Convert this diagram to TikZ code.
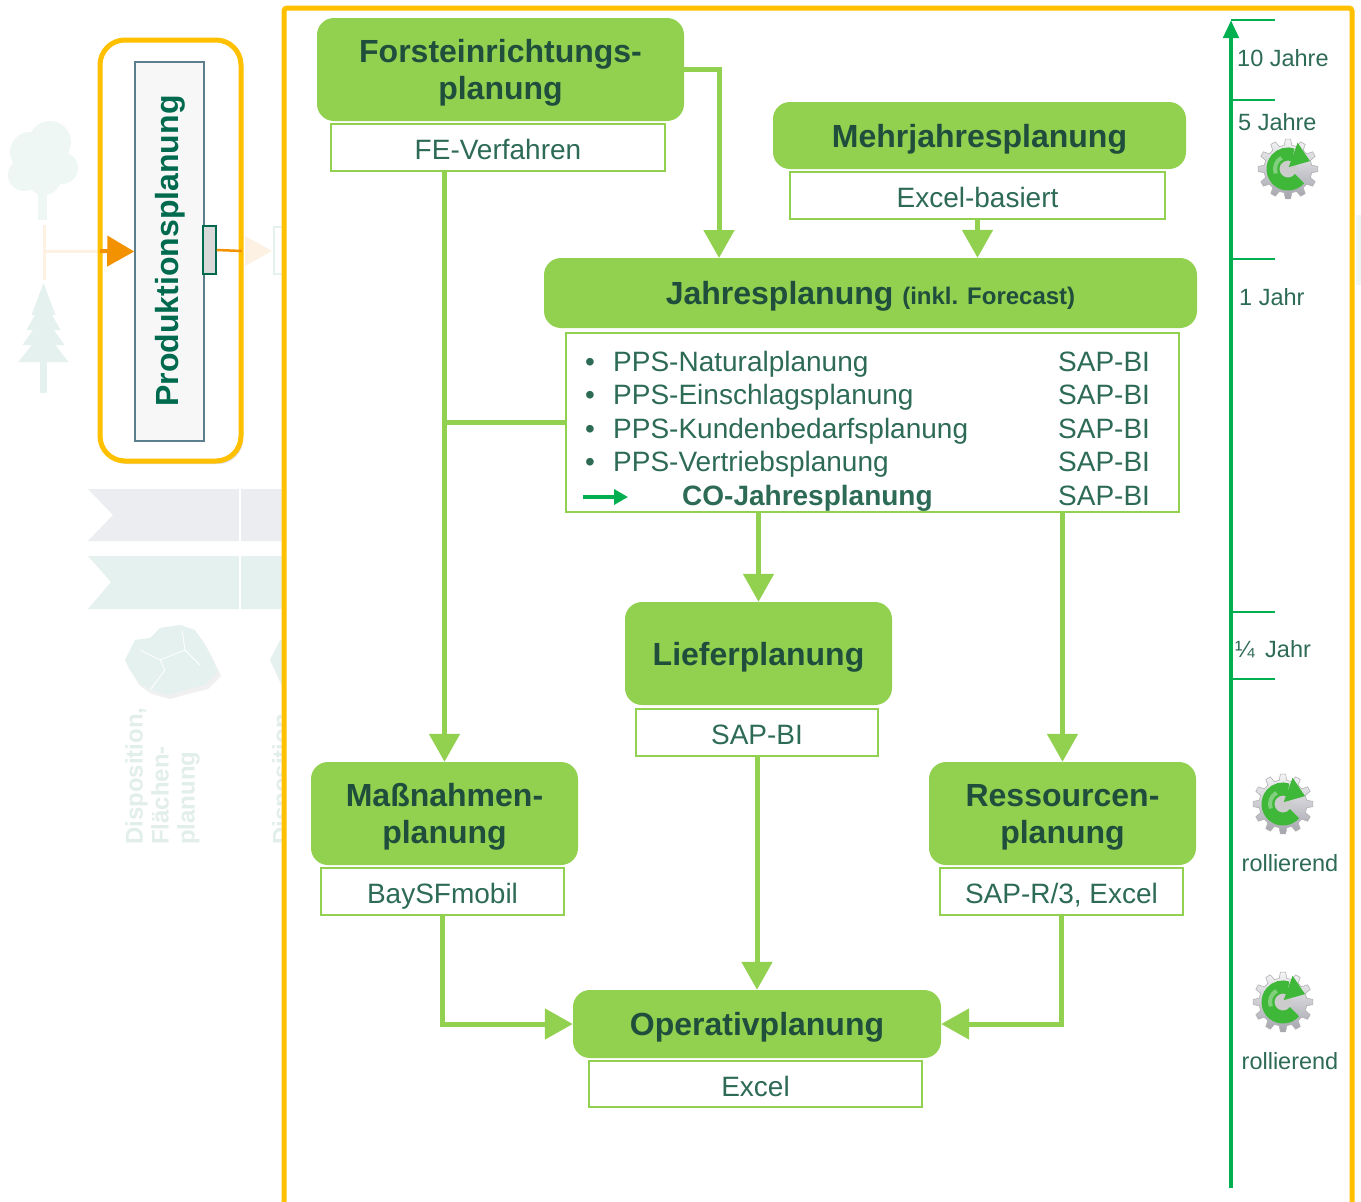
\documentclass[tikz,border=0pt]{standalone}
\usepackage{fontspec}
\setmainfont{Liberation Sans}
\usetikzlibrary{arrows.meta,shadows}

\definecolor{leaf}{HTML}{92D050}
\definecolor{headtxt}{HTML}{1F4E3D}
\definecolor{bodytxt}{HTML}{2D6B55}
\definecolor{axisgreen}{HTML}{00B050}
\definecolor{frameor}{HTML}{FFC000}
\definecolor{strongor}{HTML}{F39200}
\definecolor{paleor}{HTML}{FDF1E3}
\definecolor{palegreen}{HTML}{E5F1EE}
\definecolor{palegray}{HTML}{EBEDF0}
\definecolor{fadetxt}{HTML}{E2EEEA}
\definecolor{produkt}{HTML}{006A4E}
\definecolor{slate}{HTML}{5B7F8C}
\definecolor{gearlight}{HTML}{F4F4F6}
\definecolor{geardark}{HTML}{A4A4AE}
\definecolor{arrowgreen}{HTML}{3FB83A}

\tikzset{
  titlebox/.style={fill=leaf, rounded corners=17pt, inner sep=0pt, text=headtxt,
    font=\fontsize{32}{37}\selectfont\bfseries, align=center, text depth=0pt},
  subbox/.style={fill=white, draw=leaf, line width=2.5pt, inner sep=0pt, text=bodytxt,
    font=\fontsize{28}{32}\selectfont, text height=24pt, text depth=0pt},
  conn/.style={draw=leaf, line width=5pt, -{Triangle[width=30pt,length=28pt]}},
  link/.style={draw=leaf, line width=5pt},
  rowtxt/.style={anchor=base west, inner sep=0pt, text=bodytxt, font=\fontsize{28}{32}\selectfont},
  scaletxt/.style={anchor=base west, inner sep=0pt, text=bodytxt, font=\fontsize{23.5}{28}\selectfont},
  tick/.style={draw=axisgreen, line width=2pt},
  % gear with a circular refresh arrow, drawn in an upward-y frame
  gearicon/.pic={
    \begin{scope}[yscale=-1]
      \shade[top color=gearlight, bottom color=geardark, draw=black!30, line width=0.6pt]
        (-5:30) \foreach \a in {0,30,...,330}{
          -- ({\a+5}:30) -- ({\a+9}:24) -- ({\a+21}:24) -- ({\a+25}:30)
        } -- cycle;
      \fill[black!20] (0,0) circle (9);
      \draw[arrowgreen, line width=13pt]
        (-40:15) arc[start angle=-40, end angle=-290, radius=15];
      \fill[arrowgreen] (9.6,26.3) -- (22,7.9) -- (0.7,1.9) -- cycle;
      \draw[white, opacity=0.35, line width=4pt]
        (200:13) arc[start angle=200, end angle=120, radius=13];
    \end{scope}
  }
}

\begin{document}
\begin{tikzpicture}[x=1pt,y=-1pt]
\useasboundingbox (0,0) rectangle (1361,1202);
\fill[white] (0,0) rectangle (1361,1202);

% ---------- faded overview strip on the left ----------
% deciduous tree
\fill[palegreen!60] (38,185) rectangle (47,220);
\fill[palegreen!60] (30,152) circle (20) (50,142) circle (21) (62,168) circle (16)
  (24,175) circle (16) (44,178) circle (17) (42,160) circle (20);
% conifer
\fill[palegreen] (40,350) rectangle (47,393);
\foreach \t/\b/\w in {283/315/12, 300/330/17, 315/345/21, 330/362/25}
  \fill[palegreen] (43.5,\t) -- (43.5+\w,\b) -- (43.5-\w,\b) -- cycle;
% faded connectors
\draw[paleor, line width=3pt] (44,225) -- (44,280);
\draw[paleor, line width=3pt] (44,251) -- (104,251);

% orange highlighted block
\draw[frameor, line width=5pt, rounded corners=25pt, fill=white,
  drop shadow={shadow xshift=2pt, shadow yshift=-3pt, opacity=0.25}]
  (100,40) rectangle (241,461);
\node[draw=slate, line width=1.5pt, fill=black!3, minimum width=69pt, minimum height=379pt,
  inner sep=0pt] (prod) at (169.5,251.5) {};
\node[rotate=90, text=produkt, font=\fontsize{32}{37}\selectfont\bfseries] (prodtxt)
  at (170,251) {Produktionsplanung};
\node[draw=produkt, line width=1.5pt, fill=black!15, minimum width=13pt, minimum height=48pt,
  inner sep=0pt] (port) at (209.5,250) {};
\coordinate (inleft) at (100,251);
\draw[strongor, line width=4pt, -{Triangle[width=30pt,length=27pt]}] (inleft) -- (prod.west);
\coordinate (outend) at (242,251);
\draw[strongor, line width=2.5pt] (port.east) -- (outend);
\fill[paleor] (245,236) -- (272,251) -- (245,266) -- cycle;
\draw[palegreen, line width=1.5pt] (274,227) rectangle (295,274);

% chevron bands
\fill[palegray] (88,489) -- (290,489) -- (290,541) -- (88,541) -- (113,515) -- cycle;
\fill[palegreen] (88,556) -- (290,556) -- (290,609) -- (88,609) -- (111,582) -- cycle;
\draw[white, line width=1.5pt] (240,485) -- (240,612);

% region map
\fill[black!6] (128,664) -- (138,645) -- (152,642) -- (162,632) -- (182,629) -- (197,634)
  -- (205,644) -- (213,659) -- (221,676) -- (208,689) -- (188,694) -- (170,699) -- (152,694)
  -- (140,686) -- (133,674) -- cycle;
\fill[palegreen] (125,660) -- (135,640) -- (150,638) -- (160,628) -- (180,625) -- (195,630)
  -- (202,640) -- (210,655) -- (218,672) -- (205,685) -- (185,690) -- (168,695) -- (150,690)
  -- (138,682) -- (130,670) -- cycle;
\draw[white, line width=0.8pt] (140,650) -- (160,660) -- (185,650) -- (200,665)
  (150,690) -- (165,670) -- (160,660) (185,650) -- (182,630);
\fill[palegreen] (270,660) -- (280,640) -- (295,636) -- (295,690) -- (282,686) -- cycle;
\node[rotate=90, anchor=north west, align=left, inner sep=0pt, text=fadetxt,
  font=\fontsize{24}{26}\selectfont\bfseries] (dispo) at (125,845)
  {Disposition,\\Flächen-\\planung};
\node[rotate=90, anchor=north west, align=left, inner sep=0pt, text=fadetxt,
  font=\fontsize{24}{26}\selectfont\bfseries] (dispo2) at (272,845) {Disposition};

% ---------- main frame ----------
\draw[frameor, line width=5pt, fill=white, rounded corners=3pt] (284,8) rectangle (1352,1215);
\fill[palegreen!60] (1356,215) rectangle (1361,285);

% ---------- planning boxes ----------
\node[titlebox, minimum width=367pt, minimum height=103pt] (forst) at (500.5,69.5)
  {Forsteinrichtungs-\\planung};
\node[subbox, minimum width=334pt, minimum height=47pt] (fe) at (498,147.5) {FE-Verfahren};

\node[titlebox, minimum width=413pt, minimum height=67pt] (mehr) at (979.5,135.5)
  {Mehrjahresplanung};
\node[subbox, minimum width=375pt, minimum height=47pt] (exb) at (977.5,195.5) {Excel-basiert};

\node[titlebox, minimum width=653pt, minimum height=70pt] (jahr) at (870.5,293)
  {Jahresplanung {\fontsize{24}{28}\selectfont (inkl. Forecast)}};
\node[subbox, minimum width=613pt, minimum height=179pt] (list) at (872.5,422.5) {};

\node[titlebox, minimum width=267pt, minimum height=103pt] (liefer) at (758.5,653.5)
  {Lieferplanung};
\node[subbox, minimum width=242pt, minimum height=47pt] (liefsub) at (757,732.5) {SAP-BI};

\node[titlebox, minimum width=267pt, minimum height=103pt] (massn) at (444.5,813.5)
  {Maßnahmen-\\planung};
\node[subbox, minimum width=243pt, minimum height=47pt] (baysf) at (442.5,891.5) {BaySFmobil};

\node[titlebox, minimum width=267pt, minimum height=103pt] (ress) at (1062.5,813.5)
  {Ressourcen-\\planung};
\node[subbox, minimum width=243pt, minimum height=47pt] (sapr) at (1061.5,891.5) {SAP-R/3, Excel};

\node[titlebox, minimum width=368pt, minimum height=68pt] (oper) at (757,1024)
  {Operativplanung};
\node[subbox, minimum width=333pt, minimum height=46pt] (opsub) at (755.5,1084) {Excel};

% ---------- list of annual plans ----------
\foreach \y/\name [count=\i] in {371/PPS-Naturalplanung, 404.5/PPS-Einschlagsplanung,
    438/PPS-Kundenbedarfsplanung, 471.5/PPS-Vertriebsplanung}{
  \node[rowtxt] (bul\i) at (585,\y) {•};
  \node[rowtxt] (row\i) at (613,\y) {\name};
}
\coordinate (coA) at (583,497);
\coordinate (coB) at (628,497);
\draw[axisgreen, line width=4pt, -{Triangle[width=15pt,length=14pt]}] (coA) -- (coB);
\node[rowtxt, font=\fontsize{28}{32}\selectfont\bfseries] (row5) at (682,505) {CO-Jahresplanung};
\foreach \y [count=\i] in {371,404.5,438,471.5,505}
  \node[rowtxt] (sap\i) at (1058,\y) {SAP-BI};

% ---------- flows ----------
\coordinate (jin) at (719,258);
\draw[conn] (forst.east) -| (jin);
\draw[conn] (exb.south) -- (exb.south |- jahr.north);
\draw[conn] (fe.south -| massn.north) -- (massn.north);
\draw[link] (list.west) -- (list.west -| massn.north);
\draw[conn] (list.south -| liefer.north) -- (liefer.north);
\draw[conn] (list.south -| ress.north) -- (ress.north);
\draw[conn] (liefsub.south) -- (oper.north);
\draw[conn] (baysf.south) |- (oper.west);
\draw[conn] (sapr.south) |- (oper.east);

% ---------- time horizon axis ----------
\coordinate (tbot) at (1231,1188);
\coordinate (ttop) at (1231,20);
\draw[axisgreen, line width=4.5pt, -{Triangle[width=15pt,length=18pt]}] (tbot) -- (ttop);
\foreach \y in {20,100,259,612,679}
  \draw[tick] (1231,\y) -- (1275,\y);
\node[scaletxt] (h10) at (1237,66) {10 Jahre};
\node[scaletxt] (h5) at (1238,130) {5 Jahre};
\node[scaletxt] (h1) at (1239,305) {1 Jahr};
\node[scaletxt] (hq) at (1235,657) {¼\, Jahr};
\pic at (1288,169) {gearicon};
\pic at (1283,804) {gearicon};
\pic at (1283,1002) {gearicon};
\node[text=bodytxt, font=\fontsize{23.5}{28}\selectfont, inner sep=0pt] (roll1) at (1290,863) {rollierend};
\node[text=bodytxt, font=\fontsize{23.5}{28}\selectfont, inner sep=0pt] (roll2) at (1290,1061) {rollierend};
\end{tikzpicture}
\end{document}
